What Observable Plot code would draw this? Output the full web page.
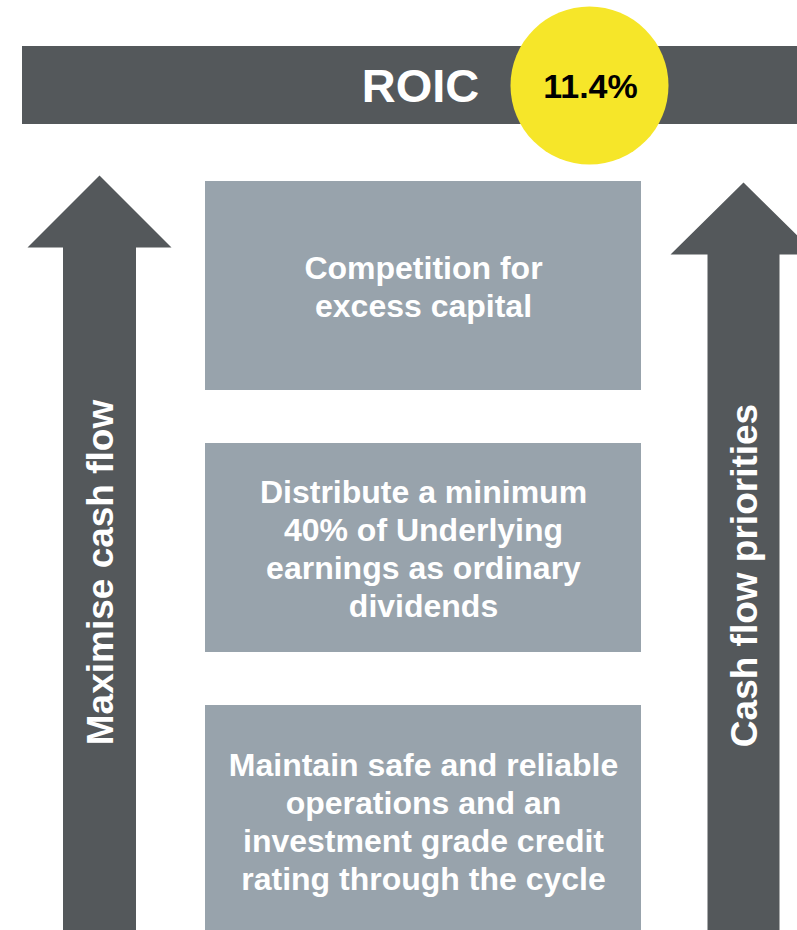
<!DOCTYPE html>
<html>
<head>
<meta charset="utf-8">
<script src="https://cdn.jsdelivr.net/npm/d3@7"></script>
<script src="https://cdn.jsdelivr.net/npm/@observablehq/plot@0.6"></script>
<style>
  html, body { margin: 0; padding: 0; background: #ffffff; overflow: hidden; }
  #chart svg { display: block; }
</style>
</head>
<body>
<div id="chart"></div>
<script>
// ---- content ----
const headline = "ROIC";
const headlineValue = [11.4];
const priorities = [
  "Competition for\nexcess capital",
  "Distribute a minimum\n40% of Underlying\nearnings as ordinary\ndividends",
  "Maintain safe and reliable\noperations and an\ninvestment grade credit\nrating through the cycle"
];
const arrowLabels = ["Maximise cash flow", "Cash flow priorities"];

// ---- layout (pixel space of the diagram) ----
const W = 797, H = 930;
const dark = "#54585b", boxGrey = "#98a3ac", yellow = "#f6e629";
const font = "'Liberation Sans', Arial, Helvetica, sans-serif";

const bar = [{x1: 22, x2: W + 10, y1: 46, y2: 124}];
const boxTops = [181, 443, 705];
const boxes = priorities.map((t, i) => ({
  text: t, x1: 205, x2: 641, y1: boxTops[i], y2: i === 2 ? H + 10 : boxTops[i] + 209,
  cy: boxTops[i] + (i === 2 ? 115 : 104.5)
}));

function arrowShape(cx, tipY, baseY, headHalf, shaftHalf, bottom, id) {
  return [
    [cx, tipY], [cx + headHalf, baseY], [cx + shaftHalf, baseY], [cx + shaftHalf, bottom],
    [cx - shaftHalf, bottom], [cx - shaftHalf, baseY], [cx - headHalf, baseY], [cx, tipY]
  ].map(([x, y]) => ({x, y, id}));
}
const arrowPts = [
  ...arrowShape(99, 175, 247, 72, 36.5, H + 10, "L"),
  ...arrowShape(743, 182, 254, 73, 36, H + 10, "R")
];
const arrowText = [
  {text: arrowLabels[0], x: 101, y: 572},
  {text: arrowLabels[1], x: 745, y: 575}
];

const chart = Plot.plot({
  width: W,
  height: H,
  margin: 0,
  x: {domain: [0, W], range: [0, W], axis: null},
  y: {domain: [0, H], range: [0, H], axis: null},
  style: {fontFamily: font, background: "#ffffff", overflow: "hidden"},
  marks: [
    Plot.rect(bar, {x1: "x1", x2: "x2", y1: "y1", y2: "y2", fill: dark}),
    Plot.text([headline], {x: 420, y: 86, text: d => d, fill: "#ffffff", fontSize: 47, fontWeight: "bold", textAnchor: "middle", lineAnchor: "middle"}),
    Plot.dot(headlineValue, {x: 589, y: 85, r: 79, fill: yellow, stroke: "none"}),
    Plot.text(headlineValue, {x: 590, y: 87, text: d => d.toFixed(1) + "%", fill: "#000000", fontSize: 34, fontWeight: "bold", textAnchor: "middle", lineAnchor: "middle"}),
    Plot.line(arrowPts, {x: "x", y: "y", z: "id", fill: dark, stroke: "none", curve: "linear"}),
    Plot.text(arrowText, {x: "x", y: "y", text: "text", rotate: -90, fill: "#ffffff", fontSize: 37, fontWeight: "bold", textAnchor: "middle", lineAnchor: "middle"}),
    Plot.rect(boxes, {x1: "x1", x2: "x2", y1: "y1", y2: "y2", fill: boxGrey}),
    Plot.text(boxes, {x: d => (d.x1 + d.x2) / 2, y: "cy", text: "text", fill: "#ffffff", fontSize: 32, fontWeight: "bold", lineHeight: 1.19, textAnchor: "middle", lineAnchor: "middle"})
  ]
});
document.getElementById("chart").appendChild(chart);
</script>
</body>
</html>
